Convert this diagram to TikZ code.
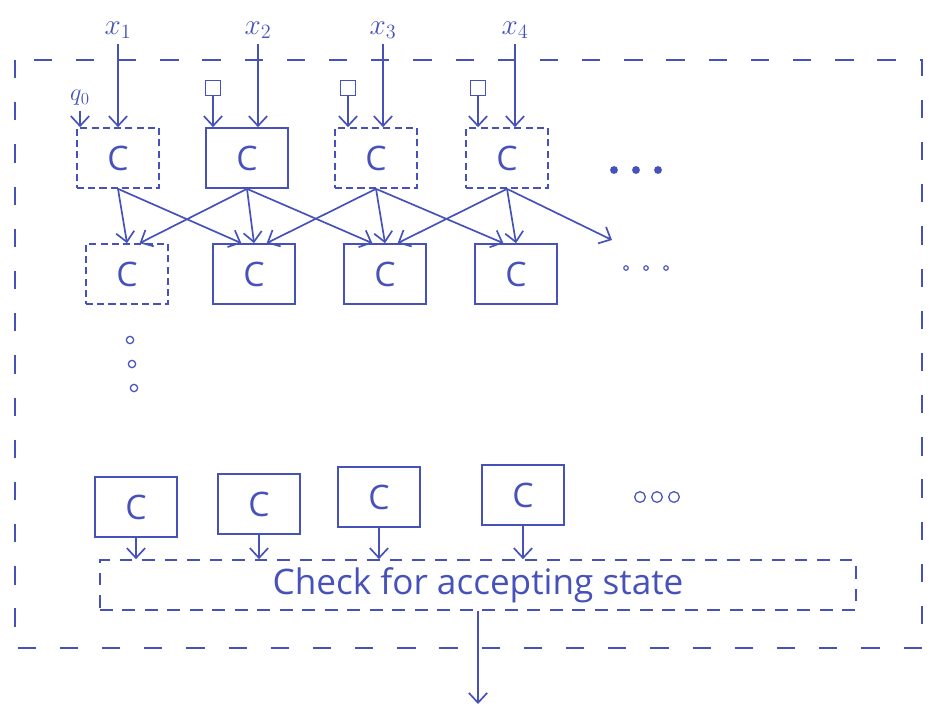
\documentclass[tikz,border=0pt]{standalone}
\usepackage{fontspec}
\setsansfont{Open Sans}
\usetikzlibrary{arrows.meta}
\definecolor{ink}{RGB}{70,82,185}
\tikzset{
  cbox/.style={draw, minimum width=2.05cm, minimum height=1.5cm, font=\sffamily\fontsize{24}{24}\selectfont},
  cdash/.style={cbox, dash pattern=on 5pt off 3pt},
  sq/.style={draw, minimum size=0.38cm, inner sep=0pt},
  chk/.style={draw, dash pattern=on 9pt off 7pt, minimum width=18.9cm, minimum height=1.25cm, font=\sffamily\fontsize{25}{27}\selectfont},
  outer/.style={dash pattern=on 13pt off 17pt},
  lbl/.style={font=\huge}
}
\begin{document}
\begin{tikzpicture}[x=0.025cm, y=-0.025cm, color=ink, line width=1.2pt, >={Straight Barb[length=7pt,width=13pt]}]
\useasboundingbox (0,0) rectangle (932,706);
\draw[outer] (15,60) rectangle (922,648);
% first row of cells, with their inputs
\foreach \n/\x/\s in {1/118/cdash,2/247/cbox,3/376/cdash,4/507/cdash}
{
	\node[\s] (a\n) at (\x,158) {C};
}
\foreach \n/\x in {1/118,2/258,3/383,4/515}
{
	\node[lbl] (x\n) at (\x,30) {$x_\n$};
	\draw[->] (x\n.south) -- (x\n |- a\n.north);
}
\node[lbl, font=\LARGE] (q0) at (80,98) {$q_0$};
\draw[->] (q0) -- (q0 |- a1.north);
\foreach \n/\x in {2/213,3/348,4/478}
{
	\node[sq] (s\n) at (\x,88) {};
	\draw[->] (s\n) -- (s\n |- a\n.north);
}
% second row
\foreach \n/\x/\s in {1/127/cdash,2/254/cbox,3/385/cbox,4/516/cbox}
{
	\node[\s] (b\n) at (\x,274) {C};
	\draw[->] (a\n.south) -- (b\n.north);
}
\foreach \n/\m in {1/2,2/3,3/4}
{
	\draw[->] (a\n.south) -- ([xshift=-9pt]b\m.north);
	\draw[->] (a\m.south) -- ([xshift=9pt]b\n.north);
}
\coordinate (more) at (612,240);
\draw[->] (a4.south) -- (more);
\foreach \x in {614,636,658}
{
	\fill (\x,170) circle [radius=2.8pt];
}
\foreach \x in {626,646,666}
{
	\draw[line width=0.8pt] (\x,268) circle [radius=1.6pt];
}
\foreach \y [count=\k] in {340,364,388}
{
	\draw[line width=0.9pt] ({128+2*\k},\y) circle [radius=2.6pt];
}
% last row
\foreach \n/\x/\y in {1/136/507,2/259/504,3/379/497,4/523/495}
{
	\node[cbox] (d\n) at (\x,\y) {C};
}
\foreach \x in {640,657,674}
{
	\draw[line width=0.9pt] (\x,497) circle [radius=3.8pt];
}
\node[chk] (chk) at (478,585) {Check for accepting state};
\foreach \n in {1,...,4}
{
	\draw[->] (d\n.south) -- (d\n.south |- chk.north);
}
\coordinate (out) at (478,704);
\draw[->] (chk.south) -- (out);
\end{tikzpicture}
\end{document}
